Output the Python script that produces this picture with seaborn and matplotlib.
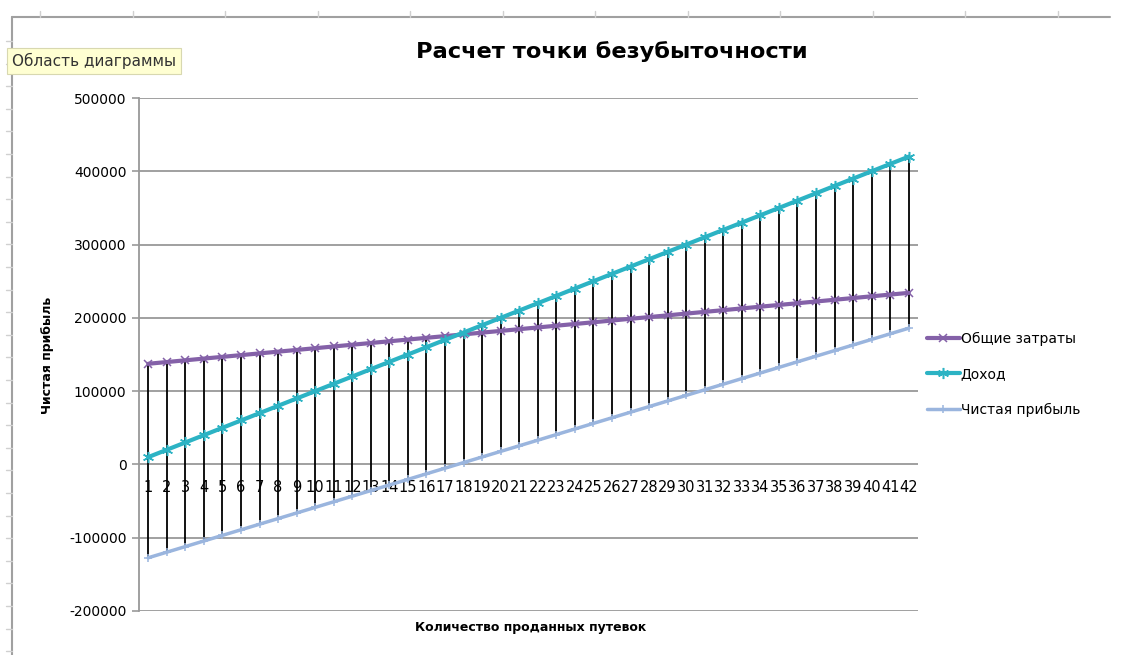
import numpy as np
import pandas as pd
import seaborn as sns
import matplotlib.pyplot as plt
from matplotlib.lines import Line2D

# количество проданных путевок
tickets = list(range(1, 43))

# Общие затраты
costs = [137360, 139720, 142080, 144440, 146800, 149160, 151520, 153880, 156240, 158600,
         160960, 163320, 165680, 168040, 170400, 172760, 175120, 177480, 179840, 182200,
         184560, 186920, 189280, 191640, 194000, 196360, 198720, 201080, 203440, 205800,
         208160, 210520, 212880, 215240, 217600, 219960, 222320, 224680, 227040, 229400,
         231760, 234120]

# Доход
revenue = [10000, 20000, 30000, 40000, 50000, 60000, 70000, 80000, 90000, 100000,
           110000, 120000, 130000, 140000, 150000, 160000, 170000, 180000, 190000, 200000,
           210000, 220000, 230000, 240000, 250000, 260000, 270000, 280000, 290000, 300000,
           310000, 320000, 330000, 340000, 350000, 360000, 370000, 380000, 390000, 400000,
           410000, 420000]

# Чистая прибыль
profit = [-127360, -119720, -112080, -104440, -96800, -89160, -81520, -73880, -66240, -58600,
          -50960, -43320, -35680, -28040, -20400, -12760, -5120, 2520, 10160, 17800,
          25440, 33080, 40720, 48360, 56000, 63640, 71280, 78920, 86560, 94200,
          101840, 109480, 117120, 124760, 132400, 140040, 147680, 155320, 162960, 170600,
          178240, 185880]

series_names = ["Общие затраты", "Доход", "Чистая прибыль"]
y_ticks = [-200000, -100000, 0, 100000, 200000, 300000, 400000, 500000]

df = pd.DataFrame({"n": tickets, series_names[0]: costs,
                   series_names[1]: revenue, series_names[2]: profit})

sns.set_style("white")
plt.rcParams["font.family"] = ["DejaVu Sans"]
plt.rcParams["text.color"] = "black"
plt.rcParams["xtick.color"] = "black"
plt.rcParams["ytick.color"] = "black"

fig = plt.figure(figsize=(11.21, 6.55), dpi=100)
ax = fig.add_axes([139 / 1121, 44 / 655, 779 / 1121, 513 / 655])

# high-low линии
vals = df[series_names].to_numpy()
ax.vlines(df["n"], vals.min(axis=1), vals.max(axis=1), color="black", lw=1.3, zorder=2)

styles = {
    "Общие затраты": dict(color="#8461a8", marker="x", ms=6, lw=3.0),
    "Доход": dict(color="#2cb3c4", marker=(6, 2, 0), ms=8, lw=3.0),
    "Чистая прибыль": dict(color="#9ab5de", marker="+", ms=6, lw=2.5),
}
for name in series_names:
    st = styles[name]
    sns.lineplot(data=df, x="n", y=name, ax=ax, color=st["color"], lw=st["lw"],
                 marker=st["marker"], markersize=st["ms"], markeredgecolor=st["color"],
                 markeredgewidth=1.1, label=name, zorder=3, legend=False)

ax.set_xlim(0.5, 42.5)
ax.set_ylim(-200000, 500000)
ax.set_yticks(y_ticks)
ax.set_yticklabels([str(v) for v in y_ticks])
ax.grid(axis="y", color="#999999", lw=1.3)
ax.set_axisbelow(True)
for s in ["top", "right"]:
    ax.spines[s].set_visible(False)
ax.spines["left"].set_color("#999999")
ax.spines["left"].set_linewidth(1.3)
ax.spines["bottom"].set_position(("data", 0))
ax.spines["bottom"].set_visible(False)
ax.set_xticks(tickets)
ax.set_xticklabels([str(t) for t in tickets])
ax.tick_params(axis="x", length=0, pad=11, labelsize=10.5)
ax.tick_params(axis="y", length=5, width=1.2, color="#999999", labelcolor="black",
               direction="out", pad=4, labelsize=10, left=True)
ax.set_xlabel("")
ax.set_ylabel("")

fig.text(612 / 1121, 1 - 52 / 655, "Расчет точки безубыточности", ha="center", va="center",
         fontsize=16.2, fontweight="bold")
fig.text(48 / 1121, 1 - 355 / 655, "Чистая прибыль", rotation=90, ha="center", va="center",
         fontsize=9, fontweight="bold")
fig.text(531 / 1121, 1 - 628 / 655, "Количество проданных путевок", ha="center", va="center",
         fontsize=9, fontweight="bold")

handles = [Line2D([], [], color=styles[n]["color"], lw=styles[n]["lw"], marker=styles[n]["marker"],
                  ms=styles[n]["ms"], mec=styles[n]["color"], mew=1.1) for n in series_names]
fig.legend(handles, series_names, loc="upper left", bbox_to_anchor=(914 / 1121, 1 - 319 / 655),
           frameon=False, fontsize=10, handlelength=2.4, handletextpad=0.05, labelspacing=1.55)

# рамка листа Excel
grey = "#a0a0a0"
fig.add_artist(Line2D([12 / 1121, 1110 / 1121], [1 - 17 / 655, 1 - 17 / 655], color=grey, lw=1.5))
fig.add_artist(Line2D([12 / 1121, 12 / 1121], [0, 1 - 17 / 655], color=grey, lw=1.5))
for xp in np.arange(40, 1110, 92.5):
    fig.add_artist(Line2D([xp / 1121, xp / 1121], [1 - 11 / 655, 1 - 17 / 655], color="#d0d0d0", lw=1))
for yp in np.arange(41, 655, 22.6):
    fig.add_artist(Line2D([6 / 1121, 12 / 1121], [1 - yp / 655, 1 - yp / 655], color="#d0d0d0", lw=1))

fig.text(12 / 1121, 1 - 61 / 655, "Область диаграммы", ha="left", va="center", fontsize=11,
         color="#333333",
         bbox=dict(boxstyle="square,pad=0.35", fc="#ffffd2", ec="#d8d8b0", lw=0.8))

fig.savefig("out.png", dpi=100)
